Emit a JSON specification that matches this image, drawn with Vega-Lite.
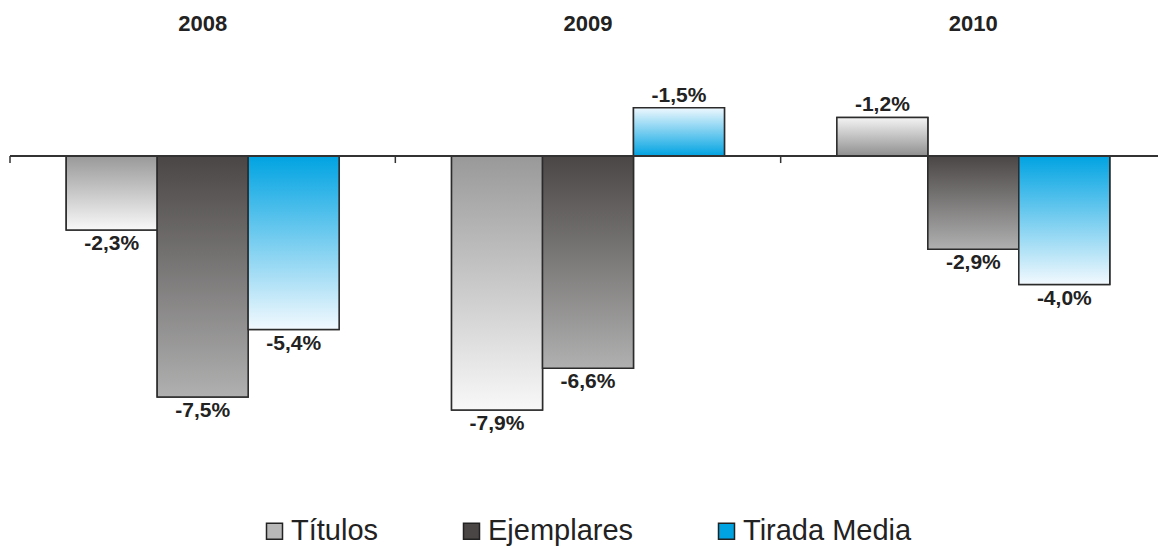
{
  "$schema": "https://vega.github.io/schema/vega-lite/v6.json",
  "width": 1156,
  "height": 418,
  "autosize": {"type": "none"},
  "padding": {"left": 10, "top": 59.5, "right": 0, "bottom": 69.5},
  "background": "white",
  "config": {"view": {"stroke": null}, "font": "Liberation Sans"},
  "data": {
    "values": [
      {"year": "2008", "serie": "Títulos", "v": -2.3, "label": "-2,3%"},
      {"year": "2008", "serie": "Ejemplares", "v": -7.5, "label": "-7,5%"},
      {"year": "2008", "serie": "Tirada Media", "v": -5.4, "label": "-5,4%"},
      {"year": "2009", "serie": "Títulos", "v": -7.9, "label": "-7,9%"},
      {"year": "2009", "serie": "Ejemplares", "v": -6.6, "label": "-6,6%"},
      {"year": "2009", "serie": "Tirada Media", "v": 1.5, "label": "-1,5%"},
      {"year": "2010", "serie": "Títulos", "v": 1.2, "label": "-1,2%"},
      {"year": "2010", "serie": "Ejemplares", "v": -2.9, "label": "-2,9%"},
      {"year": "2010", "serie": "Tirada Media", "v": -4.0, "label": "-4,0%"}
    ]
  },
  "layer": [
    {
      "mark": {"type": "bar", "stroke": "#2b2b2b", "strokeWidth": 1.5},
      "encoding": {
        "x": {"field": "year", "type": "nominal", "scale": {"paddingInner": 0, "paddingOuter": 0},
              "axis": {"orient": "top", "title": null, "domain": false, "ticks": false, "labelAngle": 0, "labelFontSize": 22, "labelFontWeight": "bold", "labelColor": "#222", "labelPadding": 24}},
        "xOffset": {"field": "serie", "type": "nominal", "sort": ["Títulos", "Ejemplares", "Tirada Media"], "scale": {"paddingInner": 0, "paddingOuter": 0.618}},
        "y": {"field": "v", "type": "quantitative", "scale": {"domain": [-10, 3], "nice": false}, "axis": null},
        "color": {"field": "serie", "type": "nominal",
                  "scale": {"domain": ["Títulos", "Ejemplares", "Tirada Media"], "range": ["#b8b8b8", "#4a4645", "#00a3e2"]},
                  "legend": {"title": null, "orient": "none", "direction": "horizontal", "legendX": 250, "legendY": 457,
                             "symbolType": "square", "symbolSize": 256, "symbolStrokeColor": "#222", "symbolStrokeWidth": 1.5, "symbolOpacity": 1,
                             "labelFontSize": 29, "labelColor": "#222", "labelOffset": 2, "columnPadding": 78, "labelLimit": 300}}
      }
    },
    {
      "mark": {"type": "bar", "stroke": "#2b2b2b", "strokeWidth": 1.5},
      "encoding": {
        "x": {"field": "year", "type": "nominal", "scale": {"paddingInner": 0, "paddingOuter": 0},
              "axis": {"orient": "top", "title": null, "domain": false, "ticks": false, "labelAngle": 0, "labelFontSize": 22, "labelFontWeight": "bold", "labelColor": "#222", "labelPadding": 24}},
        "xOffset": {"field": "serie", "type": "nominal", "sort": ["Títulos", "Ejemplares", "Tirada Media"], "scale": {"paddingInner": 0, "paddingOuter": 0.618}},
        "y": {"field": "v", "type": "quantitative", "scale": {"domain": [-10, 3], "nice": false}, "axis": null},
        "fill": {
          "condition": [
            {"test": "datum.serie === 'Títulos' && datum.v < 0", "value": {"gradient": "linear", "x1": 0, "y1": 0, "x2": 0, "y2": 1, "stops": [{"offset": 0, "color": "#999999"}, {"offset": 1, "color": "#f8f8f8"}]}},
            {"test": "datum.serie === 'Títulos' && datum.v >= 0", "value": {"gradient": "linear", "x1": 0, "y1": 0, "x2": 0, "y2": 1, "stops": [{"offset": 0, "color": "#f4f4f4"}, {"offset": 1, "color": "#8f8f8f"}]}},
            {"test": "datum.serie === 'Ejemplares'", "value": {"gradient": "linear", "x1": 0, "y1": 0, "x2": 0, "y2": 1, "stops": [{"offset": 0, "color": "#4a4645"}, {"offset": 1, "color": "#b0b0b0"}]}},
            {"test": "datum.serie === 'Tirada Media' && datum.v < 0", "value": {"gradient": "linear", "x1": 0, "y1": 0, "x2": 0, "y2": 1, "stops": [{"offset": 0, "color": "#00a3e2"}, {"offset": 1, "color": "#f2f9fe"}]}}
          ],
          "value": {"gradient": "linear", "x1": 0, "y1": 0, "x2": 0, "y2": 1, "stops": [{"offset": 0, "color": "#eef8fe"}, {"offset": 1, "color": "#00a3e2"}]}
        }
      }
    },
    {
      "transform": [{"filter": "datum.v < 0"}],
      "mark": {"type": "text", "baseline": "top", "dy": 3, "fontSize": 21, "fontWeight": "bold", "color": "#222"},
      "encoding": {
        "x": {"field": "year", "type": "nominal", "scale": {"paddingInner": 0, "paddingOuter": 0},
              "axis": {"orient": "top", "title": null, "domain": false, "ticks": false, "labelAngle": 0, "labelFontSize": 22, "labelFontWeight": "bold", "labelColor": "#222", "labelPadding": 24}},
        "xOffset": {"field": "serie", "type": "nominal", "sort": ["Títulos", "Ejemplares", "Tirada Media"], "scale": {"paddingInner": 0, "paddingOuter": 0.618}},
        "y": {"field": "v", "type": "quantitative", "scale": {"domain": [-10, 3], "nice": false}, "axis": null},
        "text": {"field": "label", "type": "nominal"}
      }
    },
    {
      "transform": [{"filter": "datum.v > 0"}],
      "mark": {"type": "text", "baseline": "bottom", "dy": -2, "fontSize": 21, "fontWeight": "bold", "color": "#222"},
      "encoding": {
        "x": {"field": "year", "type": "nominal", "scale": {"paddingInner": 0, "paddingOuter": 0},
              "axis": {"orient": "top", "title": null, "domain": false, "ticks": false, "labelAngle": 0, "labelFontSize": 22, "labelFontWeight": "bold", "labelColor": "#222", "labelPadding": 24}},
        "xOffset": {"field": "serie", "type": "nominal", "sort": ["Títulos", "Ejemplares", "Tirada Media"], "scale": {"paddingInner": 0, "paddingOuter": 0.618}},
        "y": {"field": "v", "type": "quantitative", "scale": {"domain": [-10, 3], "nice": false}, "axis": null},
        "text": {"field": "label", "type": "nominal"}
      }
    },
    {
      "transform": [{"filter": "datum.serie === 'Títulos'"}],
      "mark": {"type": "rule", "color": "#333", "strokeWidth": 1.5},
      "encoding": {
        "x": {"field": "year", "type": "nominal", "bandPosition": 0, "scale": {"paddingInner": 0, "paddingOuter": 0},
              "axis": {"orient": "top", "title": null, "domain": false, "ticks": false, "labelAngle": 0, "labelFontSize": 22, "labelFontWeight": "bold", "labelColor": "#222", "labelPadding": 24}},
        "y": {"datum": 0, "type": "quantitative"},
        "y2": {"datum": -0.22}
      }
    },
    {
      "mark": {"type": "rule", "color": "#333", "strokeWidth": 1.5},
      "encoding": {
        "y": {"datum": 0, "type": "quantitative"}
      }
    }
  ]
}
